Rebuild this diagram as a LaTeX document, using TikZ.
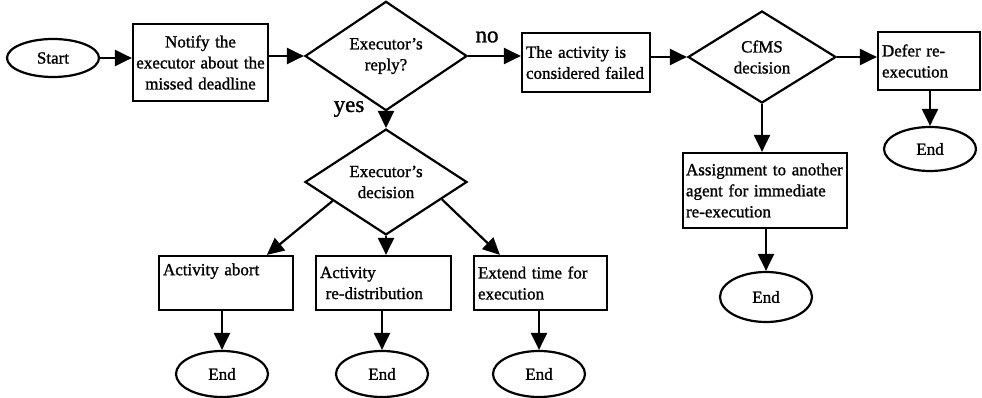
\documentclass[tikz,border=0pt]{standalone}
\usepackage{fontspec}
\setmainfont{Liberation Serif}[FakeBold=1.2]
\usetikzlibrary{arrows.meta,shapes.geometric,calc}
\begin{document}
\begin{tikzpicture}[x=1pt,y=-1pt,
  base/.style={draw, line width=2.2pt, font=\fontsize{17}{21}\selectfont},
  proc/.style={base, rectangle, inner xsep=4pt, inner ysep=0pt, align=left},
  cproc/.style={base, rectangle, inner xsep=2pt, inner ysep=0pt, align=center},
  term/.style={base, ellipse, inner sep=0pt, minimum width=92pt},
  choice/.style={base, diamond, inner sep=0pt, align=center},
  branch/.style={font=\fontsize{23}{25}\selectfont, inner sep=0pt},
  arr/.style={line width=2.2pt, -{Triangle[length=17pt,width=16pt]}}]
\useasboundingbox (0,0) rectangle (982,398);

% main line
\node[term, minimum height=38pt] (start) at (53,58) {Start};
\node[cproc, text width=131pt, minimum height=77pt] (notify) at (200.5,62.5)
  {Notify the\\executor about the\\missed deadline};
\node[choice, minimum width=162pt, minimum height=92pt] (reply) at (386,56)
  {Executor's\\reply?};
\node[proc, text width=120pt, minimum height=59pt] (failed) at (586,62.5)
  {The activity is\\considered failed};
\node[choice, minimum width=148pt, minimum height=92pt] (cfms) at (762,57)
  {CfMS\\decision};
\node[proc, text width=94pt, minimum height=58pt] (defer) at (929,61)
  {Defer re-\\execution};
\node[term, minimum height=44pt] (end1) at (930,149) {End};

% CfMS branch
\node[proc, inner xsep=3pt, text width=158pt, minimum height=75pt] (assign) at (765,190.5)
  {Assignment to another\\agent for immediate\\re-execution};
\node[term, minimum height=50pt] (end2) at (766,297) {End};

% executor branch
\node[choice, minimum width=162pt, minimum height=92pt] (decide) at (386,182)
  {Executor's\\decision};
\node[proc, text width=126pt, minimum height=54pt] (abort) at (226,283)
  {Activity abort\\\strut};
\node[proc, text width=127pt, minimum height=54pt] (redist) at (383.5,283)
  {Activity\\\ re-distribution};
\node[proc, text width=125pt, minimum height=54pt] (extend) at (540.5,283)
  {Extend time for\\execution};
\node[term, minimum height=46pt] (end3) at (222,374) {End};
\node[term, minimum height=46pt] (end4) at (382,374) {End};
\node[term, minimum height=46pt] (end5) at (539,374) {End};

% branch labels
\node[branch] (no) at (487,37) {no};
\node[branch] (yes) at (349,109) {yes};

% connectors
\draw[arr] (start.east) -- (start.east -| notify.west);
\draw[arr] (notify.east |- reply.west) -- (reply.west);
\draw[arr] (reply.east) -- (reply.east -| failed.west);
\draw[arr] (failed.east |- cfms.west) -- (cfms.west);
\draw[arr] (cfms.east) -- (cfms.east -| defer.west);
\draw[arr] (end1.north |- defer.south) -- (end1.north);
\draw[arr] (cfms.south) -- (cfms.south |- assign.north);
\draw[arr] (end2.north |- assign.south) -- (end2.north);
\draw[arr] (reply.south) -- (decide.north);
\draw[arr] ($(decide.south)!0.65!(decide.west)$) -- ($(abort.north west)!0.8!(abort.north east)$);
\draw[arr] (decide.south) -- (decide.south |- redist.north);
\draw[arr] ($(decide.south)!0.68!(decide.east)$) -- ($(extend.north west)!0.2!(extend.north east)$);
\draw[arr] (abort.south -| end3.north) -- (end3.north);
\draw[arr] (redist.south -| end4.north) -- (end4.north);
\draw[arr] (extend.south -| end5.north) -- (end5.north);
\end{tikzpicture}
\end{document}
